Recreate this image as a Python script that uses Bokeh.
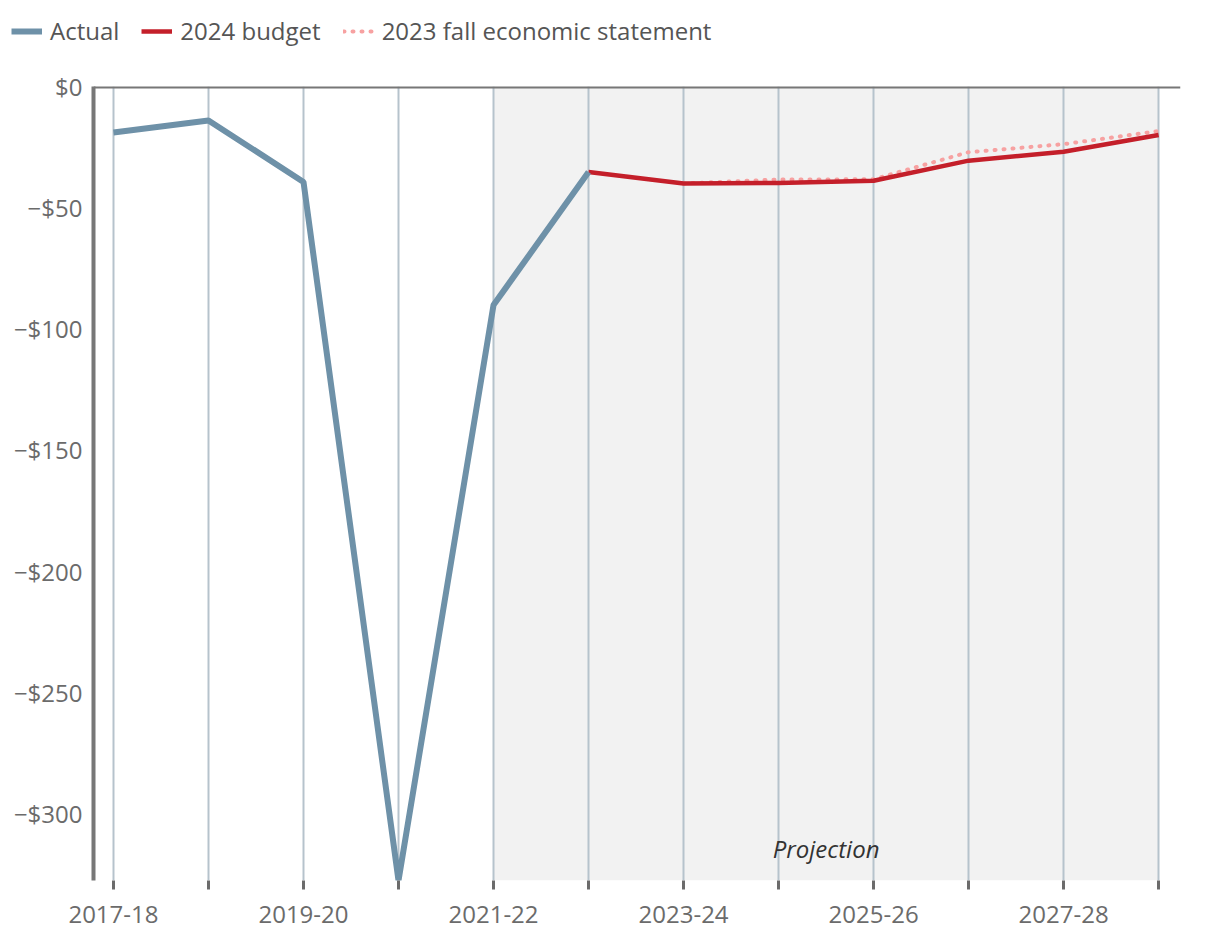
from bokeh.plotting import figure
from bokeh.layouts import column
from bokeh.models import (ColumnDataSource, FixedTicker, Span, Legend, LegendItem, Label)
from bokeh.embed import file_html
from bokeh.resources import INLINE

years = ["2017-18", "2018-19", "2019-20", "2020-21", "2021-22", "2022-23",
         "2023-24", "2024-25", "2025-26", "2026-27", "2027-28", "2028-29"]
actual_years = years[0:6]
actual = [-19.0, -14.0, -39.4, -327.7, -90.2, -35.3]
budget_years = years[5:12]
budget_2024 = [-35.3, -40.0, -39.8, -38.9, -30.6, -26.9, -20.0]
fes_years = years[6:12]
fes_2023 = [-40.0, -38.4, -38.3, -27.1, -23.8, -18.4]
projection_start = "2021-22"
projection_end = "2028-29"
y_ticks = [0, -50, -100, -150, -200, -250, -300]
y_labels = ["$0", "\u2212$50", "\u2212$100", "\u2212$150", "\u2212$200", "\u2212$250", "\u2212$300"]

idx = {y: i for i, y in enumerate(years)}
FONT = "Open Sans"
FS = "24px"

STY_A = dict(line_color="#6e91a8", line_width=6)
STY_B = dict(line_color="#c41f2a", line_width=4.5)
STY_F = dict(line_color="#f7a1a1", line_width=4, line_dash="1 8", line_cap="round")

p = figure(width=1220, height=880, output_backend="svg", toolbar_location=None,
           x_range=(-0.21, 11.23), y_range=(-327.7, 0),
           min_border_left=93, min_border_right=40, min_border_top=26, min_border_bottom=60)
p.outline_line_color = None
p.background_fill_color = "white"

# projection shading
p0, p1 = idx[projection_start], idx[projection_end]
p.quad(left=[p0], right=[p1], bottom=[min(actual)], top=[0], fill_color="#f2f2f2",
       line_color=None, level="image")

src_a = ColumnDataSource(dict(x=[idx[y] for y in actual_years], y=actual))
src_b = ColumnDataSource(dict(x=[idx[y] for y in budget_years], y=budget_2024))
src_f = ColumnDataSource(dict(x=[idx[y] for y in fes_years], y=fes_2023))

p.line("x", "y", source=src_f, **STY_F)
p.line("x", "y", source=src_b, **STY_B)
p.line("x", "y", source=src_a, **STY_A)

# axes
ticks = list(range(len(years)))
p.xaxis.ticker = FixedTicker(ticks=ticks)
p.xaxis.major_label_overrides = {i: (years[i] if i % 2 == 0 else "") for i in ticks}
p.xaxis.axis_line_color = None
p.xaxis.major_tick_out = 9
p.xaxis.major_tick_in = 0
p.xaxis.major_tick_line_width = 3
p.xaxis.major_tick_line_color = "#6b6b6b"
p.xaxis.minor_tick_line_color = None
p.xaxis.major_label_standoff = 16
p.xaxis.major_label_text_font = FONT
p.xaxis.major_label_text_font_size = FS
p.xaxis.major_label_text_color = "#6b6b6b"

p.yaxis.ticker = FixedTicker(ticks=y_ticks)
p.yaxis.major_label_overrides = dict(zip(y_ticks, y_labels))
p.yaxis.axis_line_color = "#777777"
p.yaxis.axis_line_width = 4
p.yaxis.major_tick_line_color = None
p.yaxis.minor_tick_line_color = None
p.yaxis.major_label_standoff = 5
p.yaxis.major_label_text_font = FONT
p.yaxis.major_label_text_font_size = FS
p.yaxis.major_label_text_color = "#6b6b6b"

p.xgrid.ticker = FixedTicker(ticks=ticks)
p.xgrid.grid_line_color = "#b6c3cc"
p.xgrid.grid_line_width = 2
p.ygrid.grid_line_color = None

p.add_layout(Span(location=0, dimension="width", line_color="#777777", line_width=4))

p.add_layout(Label(x=(p0 + p1) / 2, y=min(actual), y_offset=32, text="Projection",
                   text_align="center", text_baseline="middle", text_font=FONT,
                   text_font_style="italic", text_font_size=FS, text_color="#333333"))

# legend strip
lg = figure(width=1220, height=60, output_backend="svg", toolbar_location=None,
            x_range=(0, 1), y_range=(0, 1), min_border=0, min_border_top=3,
            x_axis_location=None, y_axis_location=None)
lg.grid.visible = False
lg.outline_line_color = None
for fig in (lg, p):
    try:
        fig.frame_align = False
    except Exception:
        pass
nan = float("nan")
la = lg.line("x", "y", source=ColumnDataSource(dict(x=[nan], y=[nan])), **STY_A)
lb = lg.line("x", "y", source=ColumnDataSource(dict(x=[nan], y=[nan])), **STY_B)
lf = lg.line("x", "y", source=ColumnDataSource(dict(x=[nan], y=[nan])), **STY_F)
legend = Legend(items=[LegendItem(label="Actual", renderers=[la]),
                       LegendItem(label="2024 budget", renderers=[lb]),
                       LegendItem(label="2023 fall economic statement", renderers=[lf])],
                orientation="horizontal", location="top_left",
                label_text_font=FONT, label_text_font_size=FS, label_text_color="#555555",
                glyph_width=31, glyph_height=24, label_standoff=8, spacing=22,
                padding=0, margin=11, border_line_color=None, background_fill_alpha=0)
lg.add_layout(legend)

open("out.html", "w").write(file_html(column(lg, p, spacing=0), INLINE))
